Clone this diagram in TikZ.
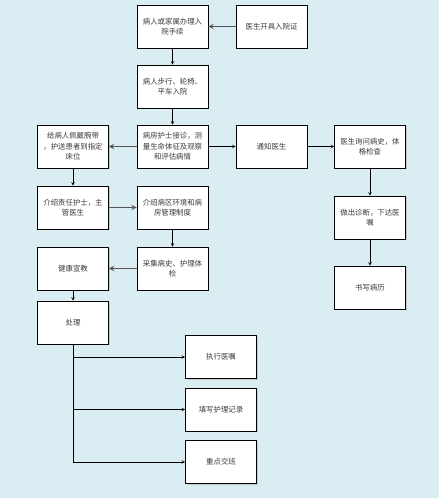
\documentclass[tikz,border=0pt]{standalone}
\usepackage{fontspec}
\usepackage{xcolor}
\usepackage{tikz}
\usetikzlibrary{calc, positioning, shadows}
\newfontfamily\cjk{Noto Sans CJK SC}
\definecolor{bgblue}{HTML}{DAEDF3}
\definecolor{txtgray}{HTML}{3A3A3A}
\definecolor{linkgray}{HTML}{555555}

\begin{document}
\begin{tikzpicture}[>=stealth, x=1pt, y=-1pt,
    stepbox/.style={draw=black, fill=white, line width=0.6pt,
        minimum width=71pt, minimum height=43pt, text width=70pt,
        align=center, inner sep=0.5pt, font=\cjk\fontsize{7.4}{10.5}\selectfont,
        text=txtgray,
        drop shadow={shadow xshift=1pt, shadow yshift=-1pt, fill=gray!60, opacity=0.6}},
    flow/.style={->, line width=0.6pt, black},
    flowgray/.style={->, line width=1.4pt, linkgray}]
    % 背景
    \fill[bgblue] (0,0) rectangle (439,498);
    \useasboundingbox (0,0) rectangle (439,498);

    % 入院手续
    \node[stepbox] (admit)  at (172.5,26.5)  {病人或家属办理入\\院手续};
    \node[stepbox] (cert)   at (271.5,26.5)  {医生开具入院证};
    \node[stepbox] (walkin) at (172.5,86.5)  {病人步行、轮椅、\\平车入院};

    % 接诊
    \node[stepbox] (nurse)  at (172.5,146.5) {病房护士接诊，测\\量生命体征及观察\\和评估病情};
    \node[stepbox] (band)   at (73,146.5)    {给病人佩戴腕带\\，护送患者到指定\\床位};
    \node[stepbox] (notify) at (271.5,146.5) {通知医生};
    \node[stepbox] (ask)    at (370,146.5)   {医生询问病史，体\\格检查};
    \node[stepbox] (diag)   at (370,217.5)   {做出诊断，下达医\\嘱};
    \node[stepbox] (record) at (370,287.5)   {书写病历};

    % 介绍与宣教
    \node[stepbox] (introA)  at (73,207.5)    {介绍责任护士，主\\管医生};
    \node[stepbox] (introB)  at (172.5,207.5) {介绍病区环境和病\\房管理制度};
    \node[stepbox] (collect) at (172.5,268.5) {采集病史、护理体\\检};
    \node[stepbox] (edu)     at (73,268.5)    {健康宣教};
    \node[stepbox] (handle)  at (73,322.5)    {处理};

    % 处理分支
    \node[stepbox] (exec)  at (221,357)   {执行医嘱};
    \node[stepbox] (fill)  at (221,409.5) {填写护理记录};
    \node[stepbox] (shift) at (221,462)   {重点交班};

    % 连线
    \draw[flowgray] (cert) -- (admit);
    \draw[flow] (admit) -- (walkin);
    \draw[flow] (walkin) -- (nurse);
    \draw[flowgray] (nurse) -- (band);
    \draw[flow] (nurse) -- (notify);
    \draw[flow] (notify) -- (ask);
    \draw[flow] (ask) -- (diag);
    \draw[flow] (diag) -- (record);
    \draw[flow] (band) -- (introA);
    \draw[flowgray] (introA) -- (introB);
    \draw[flow] (introB) -- (collect);
    \draw[flowgray] (collect) -- (edu);
    \draw[flow] (edu) -- (handle);
    \draw[flow] (handle.south) |- (exec.west);
    \draw[flow] (handle.south) |- (fill.west);
    \draw[flow] (handle.south) |- (shift.west);
\end{tikzpicture}
\end{document}
